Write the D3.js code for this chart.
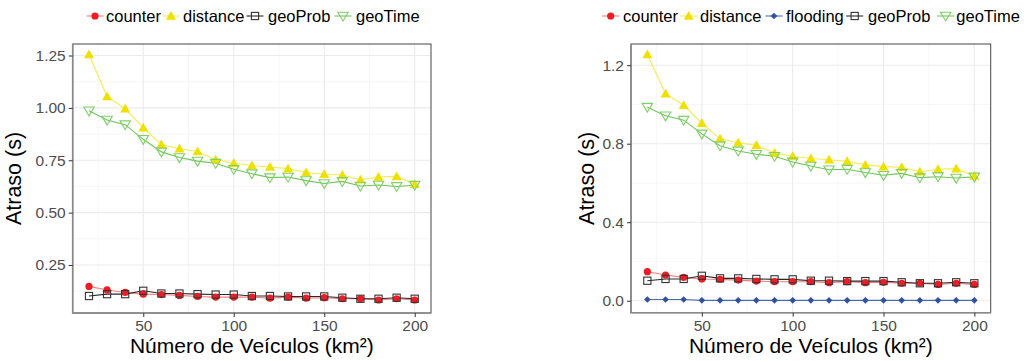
<!DOCTYPE html>
<html><head><meta charset="utf-8">
<script src="https://cdn.jsdelivr.net/npm/d3@7"></script>
<style>body{margin:0;background:#fff}svg{display:block}text{font-family:"Liberation Sans",Arial,sans-serif}</style>
</head><body><svg id="c" width="1026" height="361"></svg>
<script>
const vehicles = [20,30,40,50,60,70,80,90,100,110,120,130,140,150,160,170,180,190,200];
const counter  = [0.148,0.131,0.119,0.111,0.109,0.105,0.100,0.097,0.097,0.097,0.092,0.097,0.092,0.094,0.089,0.089,0.083,0.089,0.083];
const distance = [1.255,1.055,0.996,0.905,0.825,0.805,0.792,0.753,0.736,0.725,0.718,0.710,0.692,0.683,0.680,0.657,0.670,0.673,0.636];
const flooding = [0.006,0.006,0.006,0.002,0.002,0.002,0.002,0.002,0.002,0.002,0.002,0.002,0.002,0.002,0.002,0.002,0.002,0.002,0.002];
const geoProb  = [0.102,0.111,0.111,0.127,0.114,0.114,0.111,0.109,0.109,0.102,0.102,0.100,0.100,0.100,0.094,0.089,0.089,0.094,0.089];
const geoTime  = [0.986,0.942,0.920,0.850,0.790,0.763,0.746,0.736,0.707,0.686,0.667,0.670,0.653,0.639,0.649,0.627,0.632,0.625,0.631];
const xTicks = [50,100,150,200];
const yTicksLeft = [0.25,0.50,0.75,1.00,1.25];
const yTicksRight = [0.0,0.4,0.8,1.2];
const xTitle = "Número de Veículos (km²)";
const yTitle = "Atraso (s)";

const styles = {
  counter:  {line:"#FF5A5A", lineOp:0.8, shape:"circle", fill:"#EE1C25", stroke:"#EE1C25"},
  distance: {line:"#F2EA3A", lineOp:0.9, shape:"triangle", fill:"#F0E000", stroke:"#F0E000"},
  flooding: {line:"#3A5BA9", lineOp:0.9, shape:"diamond", fill:"#2F50A5", stroke:"#2F50A5"},
  geoProb:  {line:"#111111", lineOp:0.9, shape:"square", fill:"none", stroke:"#333333"},
  geoTime:  {line:"#5FBE45", lineOp:0.9, shape:"triangleDown", fill:"none", stroke:"#7DCF68"}
};
const seriesData = {counter, distance, flooding, geoProb, geoTime};

const svg = d3.select("#c");

function marker(g, shape, x, y, st) {
  if (shape === "circle") {
    g.append("circle").attr("cx",x).attr("cy",y).attr("r",3.6).attr("fill",st.fill);
  } else if (shape === "triangle") {
    g.append("path").attr("d",`M${x},${y-5}L${x+5},${y+3.8}L${x-5},${y+3.8}Z`).attr("fill",st.fill);
  } else if (shape === "diamond") {
    g.append("path").attr("d",`M${x},${y-3.3}L${x+3.3},${y}L${x},${y+3.3}L${x-3.3},${y}Z`).attr("fill",st.fill);
  } else if (shape === "square") {
    g.append("rect").attr("x",x-3.6).attr("y",y-3.6).attr("width",7.2).attr("height",7.2)
      .attr("fill","none").attr("stroke",st.stroke).attr("stroke-width",1.1);
  } else if (shape === "triangleDown") {
    g.append("path").attr("d",`M${x-5.2},${y-3.8}L${x+5.2},${y-3.8}L${x},${y+5}Z`)
      .attr("fill","none").attr("stroke",st.stroke).attr("stroke-width",1.1);
  }
}

function panel(cfg) {
  const {left,right,top,bottom,yDomain,yTicks,yMinor,fmt,names,titleX,legend} = cfg;
  const x = d3.scaleLinear().domain([11,209]).range([left,right]);
  const y = d3.scaleLinear().domain(yDomain).range([bottom,top]);
  const g = svg.append("g");
  const xMinor = [25,75,125,175];
  g.selectAll(".xm").data(xMinor).enter().append("line")
    .attr("x1",d=>x(d)).attr("x2",d=>x(d)).attr("y1",top).attr("y2",bottom)
    .attr("stroke","#F2F2F2").attr("stroke-width",0.6);
  g.selectAll(".ym").data(yMinor).enter().append("line")
    .attr("y1",d=>y(d)).attr("y2",d=>y(d)).attr("x1",left).attr("x2",right)
    .attr("stroke","#F2F2F2").attr("stroke-width",0.6);
  g.selectAll(".xg").data(xTicks).enter().append("line")
    .attr("x1",d=>x(d)).attr("x2",d=>x(d)).attr("y1",top).attr("y2",bottom)
    .attr("stroke","#EBEBEB").attr("stroke-width",1.1);
  g.selectAll(".yg").data(yTicks).enter().append("line")
    .attr("y1",d=>y(d)).attr("y2",d=>y(d)).attr("x1",left).attr("x2",right)
    .attr("stroke","#EBEBEB").attr("stroke-width",1.1);
  const line = d3.line().x(d=>x(d[0])).y(d=>y(d[1]));
  names.forEach(n=>{
    const st = styles[n];
    g.append("path").datum(vehicles.map((v,i)=>[v,seriesData[n][i]]))
      .attr("d",line).attr("fill","none").attr("stroke",st.line)
      .attr("stroke-opacity",st.lineOp).attr("stroke-width",1.1);
  });
  names.forEach(n=>{
    const st = styles[n];
    const pg = g.append("g");
    vehicles.forEach((v,i)=>marker(pg, st.shape, x(v), y(seriesData[n][i]), st));
  });
  g.append("rect").attr("x",left).attr("y",top).attr("width",right-left).attr("height",bottom-top)
    .attr("fill","none").attr("stroke","#444").attr("stroke-width",1);
  g.append("path").attr("d",`M${left},${top}V${bottom}H${right}`).attr("fill","none")
    .attr("stroke","#8a8a8a").attr("stroke-width",1.6);
  const xa = g.append("g").attr("transform",`translate(0,${bottom})`)
    .call(d3.axisBottom(x).tickValues(xTicks).tickSize(4).tickPadding(3).tickFormat(d3.format("d")));
  const ya = g.append("g").attr("transform",`translate(${left},0)`)
    .call(d3.axisLeft(y).tickValues(yTicks).tickSize(4).tickPadding(3).tickFormat(d3.format(fmt)));
  [xa,ya].forEach(a=>{
    a.select(".domain").remove();
    a.selectAll(".tick line").attr("stroke","#333");
    a.selectAll(".tick text").attr("fill","#4D4D4D").style("font-size","15.5px")
      .style("font-family",'"Liberation Sans",Arial,sans-serif');
  });
  g.append("text").attr("x",(left+right)/2).attr("y",352.5).attr("text-anchor","middle")
    .style("font-size","21px").attr("fill","#000").text(xTitle);
  g.append("text").attr("transform",`translate(${titleX},${(top+bottom)/2}) rotate(-90)`)
    .attr("text-anchor","middle").style("font-size","21.5px").attr("fill","#000").text(yTitle);
  const lg = svg.append("g");
  legend.forEach(([n,kx,tx])=>{
    const st = styles[n];
    lg.append("line").attr("x1",kx-8.5).attr("x2",kx+8.5).attr("y1",16).attr("y2",16)
      .attr("stroke",st.line).attr("stroke-opacity",st.lineOp).attr("stroke-width",1.1);
    marker(lg, st.shape, kx, 16, st);
    lg.append("text").attr("x",tx).attr("y",22).style("font-size","16.5px").attr("fill","#000").text(n);
  });
}

panel({left:72.7,right:431,top:44,bottom:313,yDomain:[0.021,1.305],yTicks:yTicksLeft,
  yMinor:[0.125,0.375,0.625,0.875,1.125],fmt:".2f",names:["counter","distance","geoProb","geoTime"],
  titleX:21,
  legend:[["counter",95,106],["distance",171,183],["geoProb",255,268],["geoTime",343,356]]});
panel({left:631,right:990.7,top:44,bottom:312.7,yDomain:[-0.061,1.308],yTicks:yTicksRight,
  yMinor:[0.2,0.6,1.0],fmt:".1f",names:["counter","distance","flooding","geoProb","geoTime"],
  titleX:594,
  legend:[["counter",610.7,623],["distance",688.7,700],["flooding",774,786],["geoProb",854.7,868],["geoTime",945.7,956.3]]});
</script></body></html>
